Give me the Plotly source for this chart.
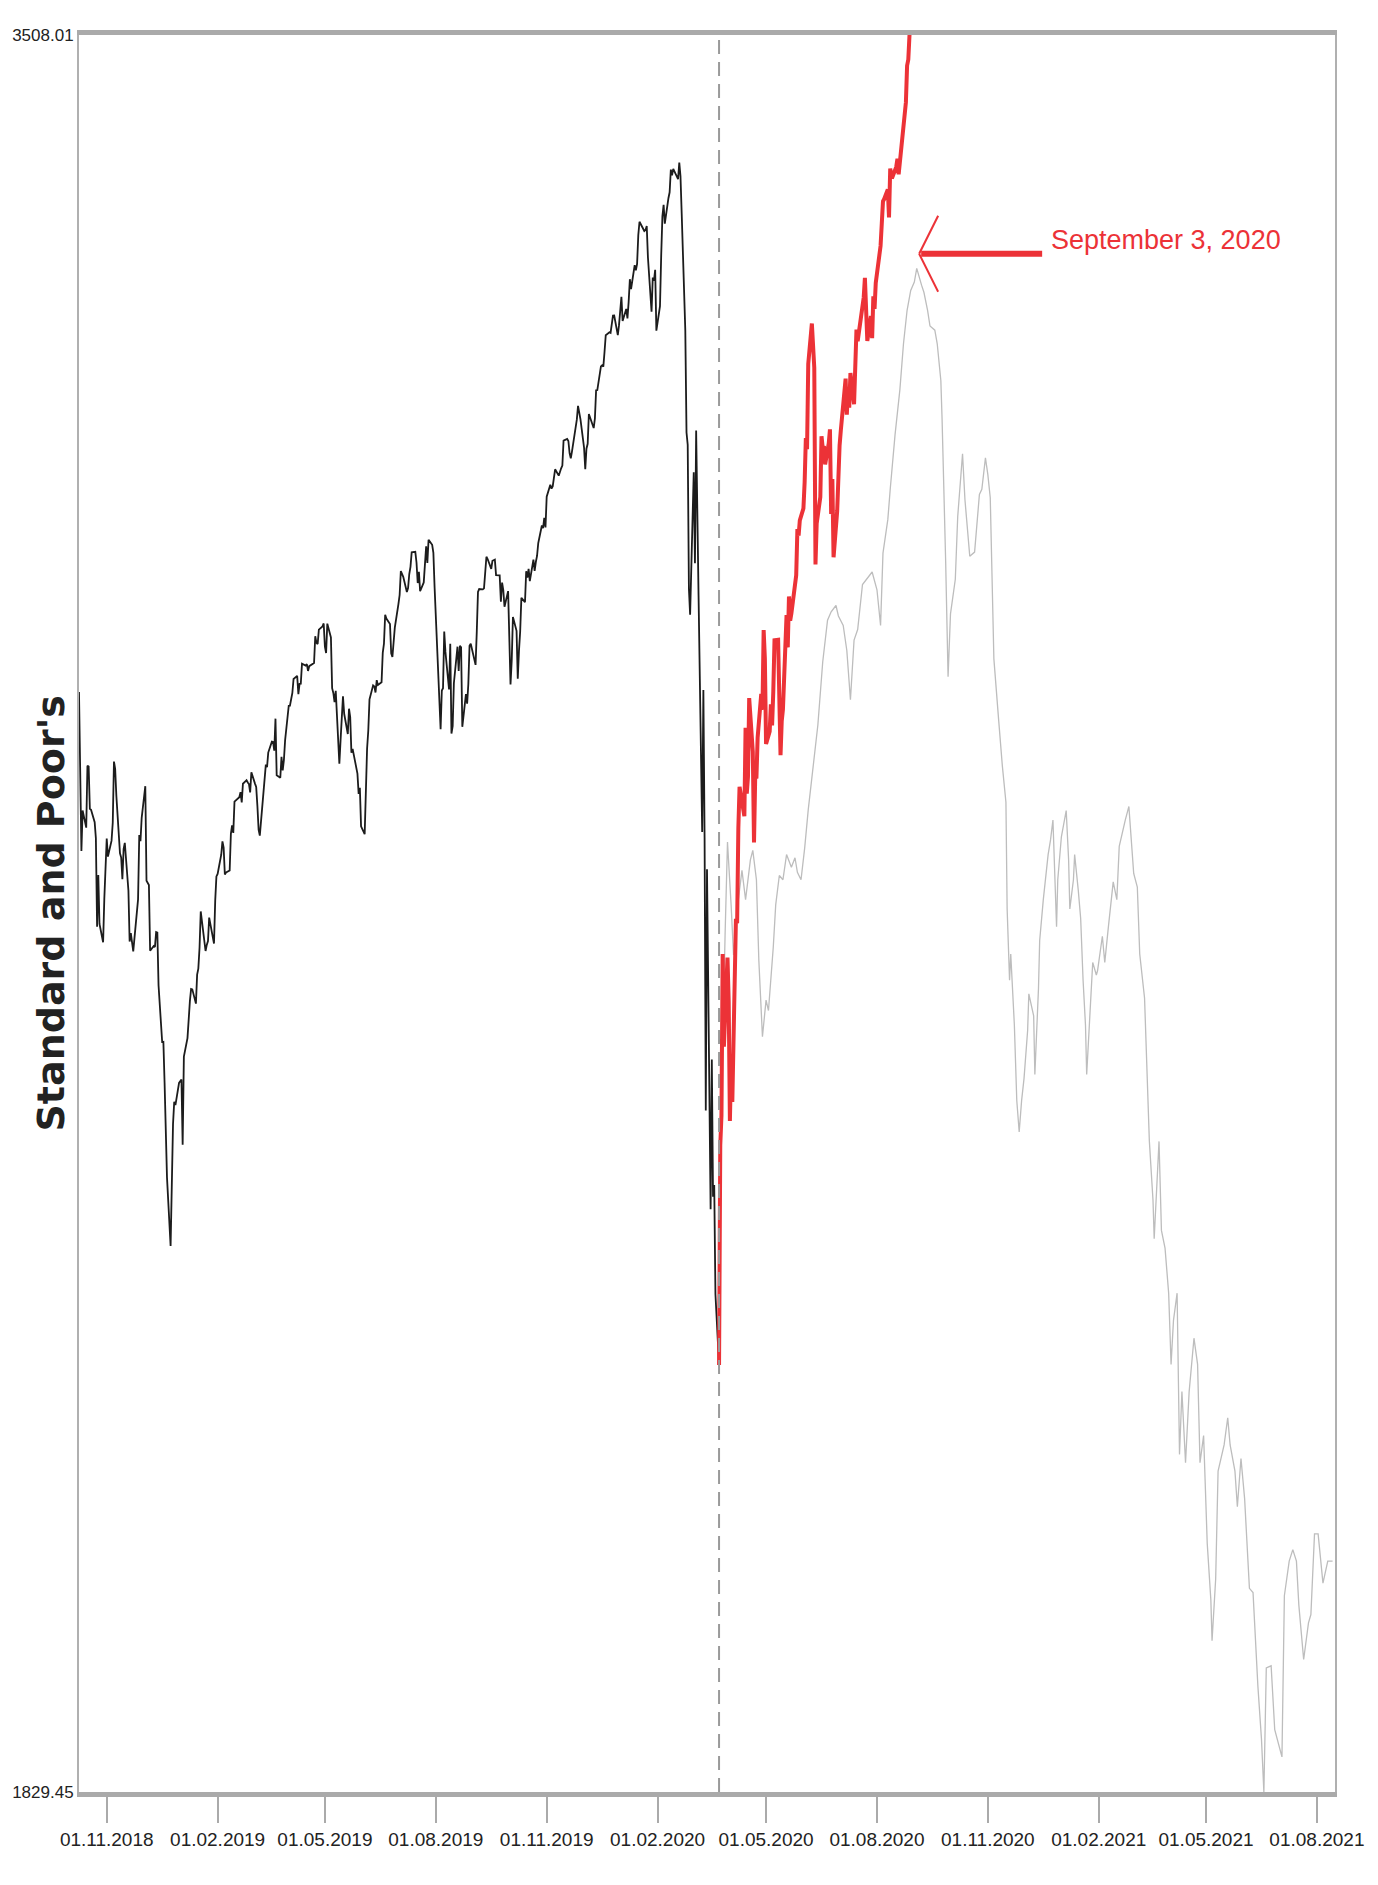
import plotly.graph_objects as go

# ---------------- DATA ----------------
# S&P 500 closes before the split date (black)
black_series = [
    ("2018-10-09", 2880.34), ("2018-10-10", 2785.68), ("2018-10-11", 2728.37), ("2018-10-12", 2767.13),
    ("2018-10-15", 2750.79), ("2018-10-16", 2809.92), ("2018-10-17", 2809.21), ("2018-10-18", 2768.78),
    ("2018-10-19", 2767.78), ("2018-10-22", 2755.88), ("2018-10-23", 2740.69), ("2018-10-24", 2656.10),
    ("2018-10-25", 2705.57), ("2018-10-26", 2658.69), ("2018-10-29", 2641.25), ("2018-10-30", 2682.63),
    ("2018-10-31", 2711.74), ("2018-11-01", 2740.37), ("2018-11-02", 2723.06), ("2018-11-05", 2738.31),
    ("2018-11-06", 2755.45), ("2018-11-07", 2813.89), ("2018-11-08", 2806.83), ("2018-11-09", 2781.01),
    ("2018-11-12", 2726.22), ("2018-11-13", 2722.18), ("2018-11-14", 2701.58), ("2018-11-15", 2730.20),
    ("2018-11-16", 2736.27), ("2018-11-19", 2690.73), ("2018-11-20", 2641.89), ("2018-11-21", 2649.93),
    ("2018-11-23", 2632.56), ("2018-11-26", 2673.45), ("2018-11-27", 2682.17), ("2018-11-28", 2743.79),
    ("2018-11-29", 2737.80), ("2018-11-30", 2760.17), ("2018-12-03", 2790.37), ("2018-12-04", 2700.06),
    ("2018-12-06", 2695.95), ("2018-12-07", 2633.08), ("2018-12-10", 2637.72), ("2018-12-11", 2636.78),
    ("2018-12-12", 2651.07), ("2018-12-13", 2650.54), ("2018-12-14", 2599.95), ("2018-12-17", 2545.94),
    ("2018-12-18", 2546.16), ("2018-12-19", 2506.96), ("2018-12-20", 2467.42), ("2018-12-21", 2416.62),
    ("2018-12-24", 2351.10), ("2018-12-26", 2467.70), ("2018-12-27", 2488.83), ("2018-12-28", 2485.74),
    ("2018-12-31", 2506.85),
    ("2019-01-02", 2510.03), ("2019-01-03", 2447.89), ("2019-01-04", 2531.94), ("2019-01-07", 2549.69),
    ("2019-01-08", 2574.41), ("2019-01-09", 2584.96), ("2019-01-10", 2596.64), ("2019-01-11", 2596.26),
    ("2019-01-14", 2582.61), ("2019-01-15", 2610.30), ("2019-01-16", 2616.10), ("2019-01-17", 2635.96),
    ("2019-01-18", 2670.71), ("2019-01-22", 2632.90), ("2019-01-23", 2638.70), ("2019-01-24", 2642.33),
    ("2019-01-25", 2664.76), ("2019-01-28", 2643.85), ("2019-01-29", 2640.00), ("2019-01-30", 2681.05),
    ("2019-01-31", 2704.10), ("2019-02-01", 2706.53), ("2019-02-04", 2724.87), ("2019-02-05", 2737.70),
    ("2019-02-06", 2731.61), ("2019-02-07", 2706.05), ("2019-02-08", 2707.88), ("2019-02-11", 2709.80),
    ("2019-02-12", 2744.73), ("2019-02-13", 2753.03), ("2019-02-14", 2745.73), ("2019-02-15", 2775.60),
    ("2019-02-19", 2779.76), ("2019-02-20", 2784.70), ("2019-02-21", 2774.88), ("2019-02-22", 2792.67),
    ("2019-02-25", 2796.11), ("2019-02-26", 2793.90), ("2019-02-27", 2792.38), ("2019-02-28", 2784.49),
    ("2019-03-01", 2803.69), ("2019-03-04", 2792.81), ("2019-03-05", 2789.65), ("2019-03-06", 2771.45),
    ("2019-03-07", 2748.93), ("2019-03-08", 2743.07), ("2019-03-11", 2783.30), ("2019-03-12", 2791.52),
    ("2019-03-13", 2810.92), ("2019-03-14", 2808.48), ("2019-03-15", 2822.48), ("2019-03-18", 2832.94),
    ("2019-03-19", 2832.57), ("2019-03-20", 2824.23), ("2019-03-21", 2854.88), ("2019-03-22", 2800.71),
    ("2019-03-25", 2798.36), ("2019-03-26", 2818.46), ("2019-03-27", 2805.37), ("2019-03-28", 2815.44),
    ("2019-03-29", 2834.40), ("2019-04-01", 2867.19), ("2019-04-02", 2867.24), ("2019-04-03", 2873.40),
    ("2019-04-04", 2879.39), ("2019-04-05", 2892.74), ("2019-04-08", 2895.77), ("2019-04-09", 2878.20),
    ("2019-04-10", 2888.21), ("2019-04-11", 2888.32), ("2019-04-12", 2907.41), ("2019-04-15", 2905.58),
    ("2019-04-16", 2907.06), ("2019-04-17", 2900.45), ("2019-04-18", 2905.03), ("2019-04-22", 2907.97),
    ("2019-04-23", 2933.68), ("2019-04-24", 2927.25), ("2019-04-25", 2926.17), ("2019-04-26", 2939.88),
    ("2019-04-29", 2943.03), ("2019-04-30", 2945.83), ("2019-05-01", 2923.73), ("2019-05-02", 2917.52),
    ("2019-05-03", 2945.64), ("2019-05-06", 2932.47), ("2019-05-07", 2884.05), ("2019-05-08", 2879.42),
    ("2019-05-09", 2870.72), ("2019-05-10", 2881.40), ("2019-05-13", 2811.87), ("2019-05-14", 2834.41),
    ("2019-05-15", 2850.96), ("2019-05-16", 2876.32), ("2019-05-17", 2859.53), ("2019-05-20", 2840.23),
    ("2019-05-21", 2864.36), ("2019-05-22", 2856.27), ("2019-05-23", 2822.24), ("2019-05-24", 2826.06),
    ("2019-05-28", 2802.39), ("2019-05-29", 2783.02), ("2019-05-30", 2788.86), ("2019-05-31", 2752.06),
    ("2019-06-03", 2744.45), ("2019-06-04", 2803.27), ("2019-06-05", 2826.15), ("2019-06-06", 2843.49),
    ("2019-06-07", 2873.34), ("2019-06-10", 2886.73), ("2019-06-11", 2885.72), ("2019-06-12", 2879.84),
    ("2019-06-13", 2891.64), ("2019-06-14", 2886.98), ("2019-06-17", 2889.67), ("2019-06-18", 2917.75),
    ("2019-06-19", 2926.46), ("2019-06-20", 2954.18), ("2019-06-21", 2950.46), ("2019-06-24", 2945.35),
    ("2019-06-25", 2917.38), ("2019-06-26", 2913.78), ("2019-06-27", 2924.92), ("2019-06-28", 2941.76),
    ("2019-07-01", 2964.33), ("2019-07-02", 2973.01), ("2019-07-03", 2995.82), ("2019-07-05", 2990.41),
    ("2019-07-08", 2975.95), ("2019-07-09", 2979.63), ("2019-07-10", 2993.07), ("2019-07-11", 2999.91),
    ("2019-07-12", 3013.77), ("2019-07-15", 3014.30), ("2019-07-16", 3004.04), ("2019-07-17", 2984.42),
    ("2019-07-18", 2995.11), ("2019-07-19", 2976.61), ("2019-07-22", 2985.03), ("2019-07-23", 3005.47),
    ("2019-07-24", 3019.56), ("2019-07-25", 3003.67), ("2019-07-26", 3025.86), ("2019-07-29", 3020.97),
    ("2019-07-30", 3013.18), ("2019-07-31", 2980.38), ("2019-08-01", 2953.56), ("2019-08-02", 2932.05),
    ("2019-08-05", 2844.74), ("2019-08-06", 2881.77), ("2019-08-07", 2883.98), ("2019-08-08", 2938.09),
    ("2019-08-09", 2918.65), ("2019-08-12", 2882.70), ("2019-08-13", 2926.32), ("2019-08-14", 2840.60),
    ("2019-08-15", 2847.60), ("2019-08-16", 2888.68), ("2019-08-19", 2923.65), ("2019-08-20", 2900.51),
    ("2019-08-21", 2924.43), ("2019-08-22", 2922.95), ("2019-08-23", 2847.11), ("2019-08-26", 2878.38),
    ("2019-08-27", 2869.16), ("2019-08-28", 2887.94), ("2019-08-29", 2924.58), ("2019-08-30", 2926.46),
    ("2019-09-03", 2906.27), ("2019-09-04", 2937.78), ("2019-09-05", 2976.00), ("2019-09-06", 2978.71),
    ("2019-09-09", 2978.43), ("2019-09-10", 2979.39), ("2019-09-11", 3000.93), ("2019-09-12", 3009.57),
    ("2019-09-13", 3007.39), ("2019-09-16", 2997.96), ("2019-09-17", 3005.70), ("2019-09-18", 3006.73),
    ("2019-09-19", 3006.79), ("2019-09-20", 2992.07), ("2019-09-23", 2991.78), ("2019-09-24", 2966.60),
    ("2019-09-25", 2984.87), ("2019-09-26", 2977.62), ("2019-09-27", 2961.79), ("2019-09-30", 2976.74),
    ("2019-10-01", 2940.25), ("2019-10-02", 2887.61), ("2019-10-03", 2910.63), ("2019-10-04", 2952.01),
    ("2019-10-07", 2938.79), ("2019-10-08", 2893.06), ("2019-10-09", 2919.40), ("2019-10-10", 2938.13),
    ("2019-10-11", 2970.27), ("2019-10-14", 2966.15), ("2019-10-15", 2995.68), ("2019-10-16", 2989.69),
    ("2019-10-17", 2997.95), ("2019-10-18", 2986.20), ("2019-10-21", 3006.72), ("2019-10-22", 2995.99),
    ("2019-10-23", 3004.52), ("2019-10-24", 3010.29), ("2019-10-25", 3022.55), ("2019-10-28", 3039.42),
    ("2019-10-29", 3036.89), ("2019-10-30", 3046.77), ("2019-10-31", 3037.56), ("2019-11-01", 3066.91),
    ("2019-11-04", 3078.27), ("2019-11-05", 3074.62), ("2019-11-06", 3076.78), ("2019-11-07", 3085.18),
    ("2019-11-08", 3093.08), ("2019-11-11", 3087.01), ("2019-11-12", 3091.84), ("2019-11-13", 3094.04),
    ("2019-11-14", 3096.63), ("2019-11-15", 3120.46), ("2019-11-18", 3122.03), ("2019-11-19", 3120.18),
    ("2019-11-20", 3108.46), ("2019-11-21", 3103.54), ("2019-11-22", 3110.29), ("2019-11-25", 3133.64),
    ("2019-11-26", 3140.52), ("2019-11-27", 3153.63), ("2019-11-29", 3140.98), ("2019-12-02", 3113.87),
    ("2019-12-03", 3093.20), ("2019-12-04", 3112.76), ("2019-12-05", 3117.43), ("2019-12-06", 3145.91),
    ("2019-12-09", 3135.96), ("2019-12-10", 3132.52), ("2019-12-11", 3141.63), ("2019-12-12", 3168.57),
    ("2019-12-13", 3168.80), ("2019-12-16", 3191.45), ("2019-12-17", 3192.52), ("2019-12-18", 3191.14),
    ("2019-12-19", 3205.37), ("2019-12-20", 3221.22), ("2019-12-23", 3224.01), ("2019-12-24", 3223.38),
    ("2019-12-26", 3239.91), ("2019-12-27", 3240.02), ("2019-12-30", 3221.29), ("2019-12-31", 3230.78),
    ("2020-01-02", 3257.85), ("2020-01-03", 3234.85), ("2020-01-06", 3246.28), ("2020-01-07", 3237.18),
    ("2020-01-08", 3253.05), ("2020-01-09", 3274.70), ("2020-01-10", 3265.35), ("2020-01-13", 3288.13),
    ("2020-01-14", 3283.15), ("2020-01-15", 3289.29), ("2020-01-16", 3316.81), ("2020-01-17", 3329.62),
    ("2020-01-21", 3320.79), ("2020-01-22", 3321.75), ("2020-01-23", 3325.54), ("2020-01-24", 3295.47),
    ("2020-01-27", 3243.63), ("2020-01-28", 3276.24), ("2020-01-29", 3273.40), ("2020-01-30", 3283.66),
    ("2020-01-31", 3225.52), ("2020-02-03", 3248.92), ("2020-02-04", 3297.59), ("2020-02-05", 3334.69),
    ("2020-02-06", 3345.78), ("2020-02-07", 3327.71), ("2020-02-10", 3352.09), ("2020-02-11", 3357.75),
    ("2020-02-12", 3379.45), ("2020-02-13", 3373.94), ("2020-02-14", 3380.16), ("2020-02-18", 3370.29),
    ("2020-02-19", 3386.15), ("2020-02-20", 3373.23), ("2020-02-21", 3337.75), ("2020-02-24", 3225.89),
    ("2020-02-25", 3128.21), ("2020-02-26", 3116.39), ("2020-02-27", 2978.76), ("2020-02-28", 2954.22),
    ("2020-03-02", 3090.23), ("2020-03-03", 3003.37), ("2020-03-04", 3130.12), ("2020-03-05", 3023.94),
    ("2020-03-06", 2972.37), ("2020-03-09", 2746.56), ("2020-03-10", 2882.23), ("2020-03-11", 2741.38),
    ("2020-03-12", 2480.64), ("2020-03-13", 2711.02), ("2020-03-16", 2386.13), ("2020-03-17", 2529.19),
    ("2020-03-18", 2398.10), ("2020-03-19", 2409.39), ("2020-03-20", 2304.92), ("2020-03-23", 2237.40),
]

# S&P 500 closes after the split date (red)
red_series = [
    ("2020-03-23", 2237.40), ("2020-03-24", 2447.33), ("2020-03-25", 2475.56), ("2020-03-26", 2630.07),
    ("2020-03-27", 2541.47), ("2020-03-30", 2626.65), ("2020-03-31", 2584.59), ("2020-04-01", 2470.50),
    ("2020-04-02", 2526.90), ("2020-04-03", 2488.65), ("2020-04-06", 2663.68), ("2020-04-07", 2659.41),
    ("2020-04-08", 2749.98), ("2020-04-09", 2789.82), ("2020-04-13", 2761.63), ("2020-04-14", 2846.06),
    ("2020-04-15", 2783.36), ("2020-04-16", 2799.55), ("2020-04-17", 2874.56), ("2020-04-20", 2823.16),
    ("2020-04-21", 2736.56), ("2020-04-22", 2799.31), ("2020-04-23", 2797.80), ("2020-04-24", 2836.74),
    ("2020-04-27", 2878.48), ("2020-04-28", 2863.39), ("2020-04-29", 2939.51), ("2020-04-30", 2912.43),
    ("2020-05-01", 2830.71), ("2020-05-04", 2842.74), ("2020-05-05", 2868.44), ("2020-05-06", 2848.42),
    ("2020-05-07", 2881.19), ("2020-05-08", 2929.80), ("2020-05-11", 2930.32), ("2020-05-12", 2870.12),
    ("2020-05-13", 2820.00), ("2020-05-14", 2852.50), ("2020-05-15", 2863.70), ("2020-05-18", 2953.91),
    ("2020-05-19", 2922.94), ("2020-05-20", 2971.61), ("2020-05-21", 2948.51), ("2020-05-22", 2955.45),
    ("2020-05-26", 2991.77), ("2020-05-27", 3036.13), ("2020-05-28", 3029.73), ("2020-05-29", 3044.31),
    ("2020-06-01", 3055.73), ("2020-06-02", 3080.82), ("2020-06-03", 3122.87), ("2020-06-04", 3112.35),
    ("2020-06-05", 3193.93), ("2020-06-08", 3232.39), ("2020-06-09", 3207.18), ("2020-06-10", 3190.14),
    ("2020-06-11", 3002.10), ("2020-06-12", 3041.31), ("2020-06-15", 3066.59), ("2020-06-16", 3124.74),
    ("2020-06-17", 3113.49), ("2020-06-18", 3115.34), ("2020-06-19", 3097.74), ("2020-06-22", 3117.86),
    ("2020-06-23", 3131.29), ("2020-06-24", 3050.33), ("2020-06-25", 3083.76), ("2020-06-26", 3009.05),
    ("2020-06-29", 3053.24), ("2020-06-30", 3100.29), ("2020-07-01", 3115.86), ("2020-07-02", 3130.01),
    ("2020-07-06", 3179.72), ("2020-07-07", 3145.32), ("2020-07-08", 3169.94), ("2020-07-09", 3152.05),
    ("2020-07-10", 3185.04), ("2020-07-13", 3155.22), ("2020-07-14", 3197.52), ("2020-07-15", 3226.56),
    ("2020-07-16", 3215.57), ("2020-07-17", 3224.73), ("2020-07-20", 3251.84), ("2020-07-21", 3257.30),
    ("2020-07-22", 3276.02), ("2020-07-23", 3235.66), ("2020-07-24", 3215.63), ("2020-07-27", 3239.41),
    ("2020-07-28", 3218.44), ("2020-07-29", 3258.44), ("2020-07-30", 3246.22), ("2020-07-31", 3271.12),
    ("2020-08-03", 3294.61), ("2020-08-04", 3306.51), ("2020-08-05", 3327.77), ("2020-08-06", 3349.16),
    ("2020-08-07", 3351.28), ("2020-08-10", 3360.47), ("2020-08-11", 3333.69), ("2020-08-12", 3380.35),
    ("2020-08-13", 3373.43), ("2020-08-14", 3372.85), ("2020-08-17", 3381.99), ("2020-08-18", 3389.78),
    ("2020-08-19", 3374.85), ("2020-08-20", 3385.51), ("2020-08-21", 3397.16), ("2020-08-24", 3431.28),
    ("2020-08-25", 3443.62), ("2020-08-26", 3478.73), ("2020-08-27", 3484.55), ("2020-08-28", 3508.01),
]

# Analog projection (gray)
gray_series = [
    ("2020-03-23", 2237), ("2020-03-25", 2490), ("2020-03-28", 2648), ("2020-03-30", 2737), ("2020-04-02", 2677),
    ("2020-04-04", 2629), ("2020-04-08", 2682), ("2020-04-11", 2710), ("2020-04-14", 2682), ("2020-04-18", 2720),
    ("2020-04-20", 2729), ("2020-04-23", 2701), ("2020-04-25", 2624), ("2020-04-28", 2551), ("2020-05-01", 2586),
    ("2020-05-03", 2576), ("2020-05-07", 2637), ("2020-05-09", 2677), ("2020-05-12", 2705), ("2020-05-15", 2701),
    ("2020-05-18", 2725), ("2020-05-22", 2713), ("2020-05-25", 2722), ("2020-05-27", 2708), ("2020-05-30", 2701),
    ("2020-06-02", 2731), ("2020-06-05", 2768), ("2020-06-10", 2815), ("2020-06-13", 2849), ("2020-06-17", 2909),
    ("2020-06-21", 2949), ("2020-06-24", 2957), ("2020-06-28", 2963), ("2020-06-30", 2953), ("2020-07-04", 2944),
    ("2020-07-07", 2920), ("2020-07-10", 2873), ("2020-07-13", 2930), ("2020-07-16", 2940), ("2020-07-20", 2983),
    ("2020-07-24", 2989), ("2020-07-28", 2995), ("2020-08-01", 2978), ("2020-08-04", 2944), ("2020-08-06", 3013),
    ("2020-08-10", 3045), ("2020-08-12", 3074), ("2020-08-16", 3126), ("2020-08-20", 3169), ("2020-08-23", 3213),
    ("2020-08-26", 3245), ("2020-08-29", 3264), ("2020-09-01", 3272), ("2020-09-03", 3285), ("2020-09-07", 3269),
    ("2020-09-09", 3262), ("2020-09-12", 3245), ("2020-09-14", 3230), ("2020-09-18", 3226), ("2020-09-20", 3213),
    ("2020-09-23", 3178), ("2020-09-24", 3142), ("2020-09-27", 3005), ("2020-09-29", 2895), ("2020-10-01", 2955),
    ("2020-10-05", 2988), ("2020-10-07", 3048), ("2020-10-11", 3108), ("2020-10-13", 3064), ("2020-10-17", 3010),
    ("2020-10-21", 3014), ("2020-10-25", 3069), ("2020-10-27", 3074), ("2020-10-30", 3104), ("2020-11-01", 3088),
    ("2020-11-03", 3066), ("2020-11-06", 2912), ("2020-11-09", 2873), ("2020-11-10", 2853), ("2020-11-13", 2810),
    ("2020-11-16", 2775), ("2020-11-17", 2673), ("2020-11-19", 2605), ("2020-11-20", 2630), ("2020-11-23", 2562),
    ("2020-11-25", 2490), ("2020-11-27", 2460), ("2020-11-29", 2490), ("2020-12-01", 2511), ("2020-12-04", 2557),
    ("2020-12-05", 2592), ("2020-12-09", 2571), ("2020-12-10", 2515), ("2020-12-13", 2597), ("2020-12-14", 2643),
    ("2020-12-17", 2682), ("2020-12-21", 2725), ("2020-12-23", 2739), ("2020-12-25", 2758), ("2020-12-28", 2656),
    ("2020-12-29", 2701), ("2021-01-01", 2742), ("2021-01-05", 2767), ("2021-01-07", 2720), ("2021-01-08", 2673),
    ("2021-01-11", 2701), ("2021-01-12", 2725), ("2021-01-15", 2691), ("2021-01-17", 2664), ("2021-01-19", 2605),
    ("2021-01-21", 2562), ("2021-01-22", 2515), ("2021-01-25", 2588), ("2021-01-27", 2622), ("2021-01-30", 2610),
    ("2021-01-31", 2614), ("2021-02-04", 2647), ("2021-02-06", 2622), ("2021-02-09", 2656), ("2021-02-11", 2677),
    ("2021-02-13", 2699), ("2021-02-16", 2682), ("2021-02-18", 2733), ("2021-02-23", 2758), ("2021-02-26", 2771),
    ("2021-02-28", 2739), ("2021-03-02", 2707), ("2021-03-05", 2694), ("2021-03-07", 2630), ("2021-03-11", 2588),
    ("2021-03-13", 2511), ("2021-03-15", 2451), ("2021-03-18", 2395), ("2021-03-19", 2358), ("2021-03-23", 2451),
    ("2021-03-25", 2366), ("2021-03-28", 2349), ("2021-03-31", 2306), ("2021-04-02", 2238), ("2021-04-04", 2280),
    ("2021-04-07", 2306), ("2021-04-09", 2152), ("2021-04-11", 2212), ("2021-04-14", 2144), ("2021-04-17", 2212),
    ("2021-04-21", 2263), ("2021-04-24", 2238), ("2021-04-26", 2144), ("2021-04-29", 2170), ("2021-05-02", 2067),
    ("2021-05-05", 2013), ("2021-05-06", 1974), ("2021-05-09", 2033), ("2021-05-11", 2136), ("2021-05-16", 2161),
    ("2021-05-19", 2187), ("2021-05-21", 2161), ("2021-05-25", 2136), ("2021-05-27", 2102), ("2021-05-30", 2148),
    ("2021-06-02", 2110), ("2021-06-06", 2024), ("2021-06-09", 2020), ("2021-06-13", 1931), ("2021-06-16", 1880),
    ("2021-06-18", 1829.45), ("2021-06-20", 1948), ("2021-06-24", 1950), ("2021-06-27", 1889), ("2021-06-29", 1880),
    ("2021-07-03", 1863), ("2021-07-05", 2017), ("2021-07-09", 2050), ("2021-07-12", 2061), ("2021-07-15", 2050),
    ("2021-07-17", 2008), ("2021-07-21", 1956), ("2021-07-25", 1991), ("2021-07-27", 1999), ("2021-07-30", 2076),
    ("2021-08-02", 2076), ("2021-08-06", 2029), ("2021-08-10", 2050), ("2021-08-14", 2050),
]

y_min, y_max = 1829.45, 3508.01
y_tick_values = [1829.45, 3508.01]
y_tick_labels = ["1829.45", "3508.01"]
x_tick_values = ["2018-11-01", "2019-02-01", "2019-05-01", "2019-08-01", "2019-11-01", "2020-02-01",
                 "2020-05-01", "2020-08-01", "2020-11-01", "2021-02-01", "2021-05-01", "2021-08-01"]
x_start, x_end = "2018-10-09", "2021-08-16"
split_date = "2020-03-23"
note_text = "September 3, 2020"
note_date = "2020-09-05"
note_value = 3299
y_title = "Standard and Poor's"

# ---------------- FIGURE ----------------
narrow = "Liberation Sans Narrow, Liberation Sans, Arial, sans-serif"
red = "#ec3237"

def unzip(series):
    return [d for d, _ in series], [v for _, v in series]

bx, by = unzip(black_series)
rx, ry = unzip(red_series)
gx, gy = unzip(gray_series)

fig = go.Figure()
fig.add_trace(go.Scatter(x=gx, y=gy, mode="lines", line=dict(color="#bdbdbd", width=1.3), hoverinfo="skip"))
fig.add_trace(go.Scatter(x=bx, y=by, mode="lines", line=dict(color="#1c1c1c", width=1.8)))
fig.add_trace(go.Scatter(x=rx, y=ry, mode="lines", line=dict(color=red, width=4)))

shapes = [
    dict(type="line", xref="x", yref="paper", x0=split_date, x1=split_date, y0=0, y1=1,
         line=dict(color="#9a9a9a", width=2, dash="14px,8px")),
    dict(type="line", xref="x", yref="y", xsizemode="pixel", ysizemode="pixel",
         xanchor=note_date, yanchor=note_value, x0=2, x1=123, y0=0, y1=0,
         line=dict(color=red, width=6)),
    dict(type="line", xref="x", yref="y", xsizemode="pixel", ysizemode="pixel",
         xanchor=note_date, yanchor=note_value, x0=0, x1=19, y0=0, y1=38,
         line=dict(color=red, width=2)),
    dict(type="line", xref="x", yref="y", xsizemode="pixel", ysizemode="pixel",
         xanchor=note_date, yanchor=note_value, x0=0, x1=19, y0=0, y1=-38,
         line=dict(color=red, width=2)),
]

annotations = [
    dict(x=note_date, y=note_value, xref="x", yref="y", text=note_text, showarrow=False,
         xanchor="left", yanchor="middle", xshift=130, yshift=14,
         font=dict(family=narrow, size=27, color=red)),
    dict(x=0, y=0.5, xref="paper", yref="paper", text="<b>" + y_title + "</b>", textangle=-90,
         showarrow=False, xanchor="right", yanchor="middle", xshift=-5,
         font=dict(family="DejaVu Sans, Verdana, sans-serif", size=38, color="#222222")),
]

fig.update_layout(
    width=1378, height=1885,
    margin=dict(l=75, r=43, t=35, b=93),
    plot_bgcolor="white", paper_bgcolor="white",
    showlegend=False, shapes=shapes, annotations=annotations,
)
fig.update_xaxes(
    type="date", range=[x_start, x_end], tickvals=x_tick_values, tickformat="%d.%m.%Y",
    tickangle=0, ticks="outside", ticklen=26, tickwidth=1.5, tickcolor="#aaaaaa",
    showline=True, linewidth=5, linecolor="#aaaaaa", mirror=True,
    showgrid=False, zeroline=False,
    tickfont=dict(family=narrow, size=19, color="#222222"),
)
fig.update_yaxes(
    range=[y_min, y_max], tickvals=y_tick_values, ticktext=y_tick_labels, ticks="",
    showline=True, linewidth=2, linecolor="#b0b0b0", mirror=True,
    showgrid=False, zeroline=False,
    tickfont=dict(family=narrow, size=17, color="#222222"),
)

fig.write_html("out.html", config={"displayModeBar": False},
               post_script="document.body.style.margin='0';")
